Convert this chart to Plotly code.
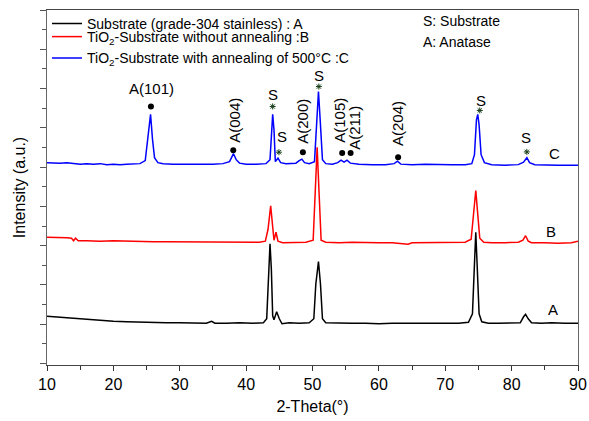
import plotly.graph_objects as go

# ---------------- data (2-theta in degrees, intensity in a.u.) ----------------
tt_A = [10.0, 11.0, 12.0, 13.0, 14.0, 15.0, 16.5, 18.0, 20.0, 22.0, 24.0, 26.0, 28.0, 30.0,
        32.0, 34.0, 34.8, 35.3, 37.0, 39.0, 41.0, 42.6, 43.1, 43.4, 43.6, 43.8, 44.0, 44.2,
        44.6, 45.0, 45.4, 46.5, 48.0, 49.5, 50.2, 50.5, 50.9, 51.2, 51.5, 52.0, 54.0, 56.0,
        58.0, 60.0, 62.0, 64.0, 66.0, 68.0, 70.0, 72.0, 73.5, 74.1, 74.4, 74.6, 74.8, 75.1,
        75.5, 76.5, 78.0, 80.0, 81.3, 81.8, 82.1, 82.5, 83.0, 84.5, 86.0, 88.0, 90.0]
int_A = [47.5, 47.0, 46.5, 45.5, 45.0, 44.5, 44.0, 43.0, 42.5, 42.0, 41.5, 41.5, 41.0, 41.0,
         41.0, 40.5, 42.5, 40.5, 40.5, 41.0, 40.5, 41.0, 45.0, 95.0, 120.5, 95.0, 48.0, 44.0,
         52.0, 45.0, 40.0, 41.0, 40.5, 41.0, 45.0, 80.0, 102.5, 80.0, 45.0, 41.0, 40.5, 40.5,
         40.5, 40.0, 40.5, 40.5, 41.0, 40.5, 40.5, 40.5, 41.5, 50.0, 100.0, 132.0, 100.0, 50.0,
         42.0, 40.5, 40.5, 40.5, 41.0, 47.0, 49.5, 45.0, 41.0, 40.5, 41.0, 40.5, 40.5]

tt_B = [10.0, 11.0, 12.0, 13.0, 13.7, 14.0, 14.3, 14.7, 16.0, 18.0, 20.0, 22.0, 24.0, 26.0,
        28.0, 30.0, 32.0, 34.0, 36.0, 38.0, 40.0, 42.0, 42.9, 43.3, 43.7, 44.0, 44.2, 44.5,
        44.8, 45.5, 47.0, 49.0, 50.1, 50.4, 50.7, 51.0, 51.3, 52.0, 54.0, 56.0, 58.0, 60.0,
        62.0, 64.4, 65.0, 67.0, 69.0, 71.0, 73.0, 73.9, 74.3, 74.6, 74.9, 75.2, 75.8, 77.0,
        79.0, 81.0, 81.7, 82.1, 82.5, 83.0, 85.0, 87.0, 89.0, 90.0]
int_B = [127.0, 127.0, 126.5, 126.5, 126.0, 123.5, 126.0, 123.5, 123.5, 123.0, 123.5, 123.0,
         123.0, 122.5, 122.5, 122.5, 122.0, 122.0, 122.5, 122.0, 122.0, 122.0, 123.0, 135.0,
         158.5, 135.0, 124.0, 132.0, 123.0, 121.5, 122.0, 122.0, 124.0, 170.0, 217.5, 170.0,
         124.0, 122.0, 121.5, 122.0, 121.5, 121.5, 121.5, 120.0, 121.5, 121.5, 121.5, 121.5,
         122.0, 125.0, 150.0, 174.0, 150.0, 126.0, 122.0, 121.5, 121.5, 122.0, 124.0, 128.5,
         123.0, 121.5, 121.5, 121.0, 121.5, 123.0]

tt_C = [10.0, 11.0, 12.0, 13.0, 14.0, 15.0, 16.0, 17.0, 18.0, 19.0, 20.0, 21.0, 22.0, 23.0,
        24.0, 24.8, 25.2, 25.6, 25.9, 26.2, 26.7, 27.5, 29.0, 31.0, 33.0, 35.0, 36.5, 37.5,
        38.1, 38.5, 39.0, 40.0, 41.5, 43.0, 43.6, 43.85, 44.0, 44.2, 44.4, 44.8, 45.2, 46.0,
        47.5, 48.0, 48.4, 48.8, 49.5, 50.3, 50.6, 50.9, 51.2, 51.5, 52.0, 53.0, 53.8, 54.3,
        54.75, 55.2, 55.7, 57.0, 59.0, 61.0, 62.3, 62.8, 63.3, 65.0, 67.0, 69.0, 71.0, 73.0,
        74.0, 74.4, 74.7, 74.9, 75.1, 75.4, 75.9, 77.0, 79.0, 81.0, 81.8, 82.3, 82.7, 83.5,
        85.0, 87.0, 89.0, 90.0]
int_C = [202.0, 201.5, 201.5, 202.0, 201.0, 200.5, 201.0, 200.5, 201.0, 200.0, 200.5, 200.0,
         200.5, 200.5, 201.0, 204.0, 225.0, 250.5, 225.0, 207.0, 202.0, 201.0, 200.5, 200.5,
         200.0, 200.5, 201.0, 203.0, 211.0, 205.0, 201.5, 200.5, 200.5, 201.0, 205.0, 240.0,
         250.5, 235.0, 203.0, 206.5, 202.0, 201.0, 201.5, 204.0, 205.5, 202.0, 201.0, 203.0,
         240.0, 273.5, 240.0, 205.0, 201.0, 200.5, 202.0, 204.5, 202.5, 204.5, 201.5, 200.5,
         200.0, 200.0, 201.0, 203.5, 200.5, 200.0, 200.5, 200.0, 200.0, 200.0, 201.0, 210.0,
         245.0, 250.5, 240.0, 210.0, 202.0, 200.0, 199.5, 200.0, 202.5, 207.0, 202.0, 200.0,
         199.5, 199.5, 199.5, 199.5]

series_names = ["Substrate (grade-304 stainless) : A",
                "TiO<sub>2</sub>-Substrate without annealing :B",
                "TiO<sub>2</sub>-Substrate with annealing of 500°C :C"]
series_colors = ["#000000", "#ff0000", "#0000ff"]
legend_ids = ["legend", "legend2", "legend3"]
legend_top = [1.006, 0.969, 0.909]

# peak labels
label_text = ["A(101)", "A(004)", "S", "S", "A(200)", "S", "A(105)", "A(211)", "A(204)", "S", "S"]
label_x = [25.77, 38.3, 44.0, 45.4, 48.55, 50.96, 54.05, 56.39, 62.9, 75.36, 82.14]
label_y = [276.5, 245.0, 270.5, 228.5, 244.0, 289.5, 244.5, 237.0, 241.0, 264.5, 227.5]
label_angle = [0, -90, 0, 0, -90, 0, -90, -90, -90, 0, 0]

# anatase markers (dots) and substrate markers (stars)
dot_x = [25.66, 38.06, 48.55, 54.47, 55.74, 62.9]
dot_y = [258.5, 214.5, 212.5, 211.8, 211.8, 207.5]
star_x = [44.0, 44.94, 50.96, 75.2, 82.29]
star_y = [258.5, 212.5, 278.5, 254.5, 212.8]

# curve end labels
end_text = ["A", "B", "C"]
end_x = [86.2, 86.0, 86.5]
end_y = [54.5, 132.8, 210.8]

# key text
key_text = ["S: Substrate", "A: Anatase"]
key_x = [66.3, 66.3]
key_y = [344.5, 323.5]

FONT = "Arial, Liberation Sans, sans-serif"
STAR_COLOR = "#153d15"

fig = go.Figure()
for tt, inten, name, col, lg in zip([tt_A, tt_B, tt_C], [int_A, int_B, int_C],
                                    series_names, series_colors, legend_ids):
    fig.add_trace(go.Scatter(x=tt, y=inten, mode="lines", name=name, legend=lg,
                             line=dict(color=col, width=1.5)))

fig.add_trace(go.Scatter(x=dot_x, y=dot_y, mode="markers", showlegend=False,
                         marker=dict(color="black", size=6), hoverinfo="skip"))
fig.add_trace(go.Scatter(x=star_x, y=star_y, mode="markers", showlegend=False,
                         marker=dict(symbol="asterisk-open", size=5, color=STAR_COLOR,
                                     line=dict(color=STAR_COLOR, width=1)),
                         hoverinfo="skip"))

annotations = []
for t, x, y, a in zip(label_text, label_x, label_y, label_angle):
    annotations.append(dict(x=x, y=y, text=t, textangle=a, showarrow=False,
                            font=dict(family=FONT, size=15, color="black")))
for t, x, y in zip(end_text, end_x, end_y):
    annotations.append(dict(x=x, y=y, text=t, showarrow=False,
                            font=dict(family=FONT, size=15, color="black")))
for t, x, y in zip(key_text, key_x, key_y):
    annotations.append(dict(x=x, y=y, text=t, showarrow=False, xanchor="left",
                            font=dict(family=FONT, size=14, color="black")))

legend_style = dict(x=0.0, xanchor="left", yanchor="top",
                    bgcolor="rgba(0,0,0,0)", borderwidth=0,
                    font=dict(family=FONT, size=14, color="black"),
                    itemwidth=30)

fig.update_layout(
    width=589, height=421,
    margin=dict(l=47, r=11, t=8, b=56),
    paper_bgcolor="white", plot_bgcolor="white",
    font=dict(family=FONT, size=16, color="black"),
    showlegend=True,
    legend=dict(y=legend_top[0], **legend_style),
    legend2=dict(y=legend_top[1], **legend_style),
    legend3=dict(y=legend_top[2], **legend_style),
    annotations=annotations,
)

fig.update_xaxes(range=[10, 90], dtick=10, tick0=10, ticks="outside", ticklen=5,
                 tickcolor="#333", tickwidth=1, automargin=False,
                 minor=dict(dtick=5, tick0=10, ticks="outside", ticklen=4, tickcolor="#333"),
                 showline=True, linecolor="#444", linewidth=1.3, mirror=True,
                 showgrid=False, zeroline=False,
                 tickfont=dict(family=FONT, size=16, color="black"),
                 title=dict(text="2-Theta(°)", font=dict(family=FONT, size=16), standoff=8))
fig.update_yaxes(range=[-1.5, 355.5], dtick=39.5, tick0=0, ticks="outside", ticklen=6,
                 tickcolor="#555", tickwidth=1, automargin=False,
                 minor=dict(dtick=19.75, tick0=0, ticks="outside", ticklen=4, tickcolor="#555"),
                 showticklabels=False,
                 showline=True, linecolor="#666", linewidth=1.3, mirror=True,
                 showgrid=False, zeroline=False,
                 title=dict(text="Intensity (a.u.)", font=dict(family=FONT, size=16), standoff=10))

fig.write_html("out.html", config={"displayModeBar": False},
               post_script="document.body.style.margin='0';")
